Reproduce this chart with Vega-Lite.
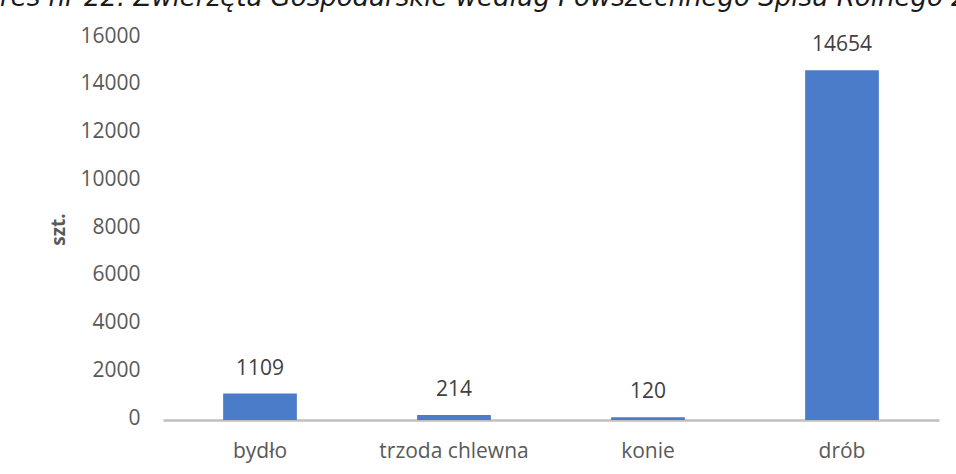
{
  "$schema": "https://vega.github.io/schema/vega-lite/v6.json",
  "autosize": {"type": "none"},
  "padding": {"left": 163, "top": 38, "right": 17, "bottom": 54},
  "width": 776,
  "height": 382,
  "background": "white",
  "title": {
    "text": "Wykres nr 22. Zwierzęta Gospodarskie według Powszechnego Spisu Rolnego 2010 r.",
    "font": "DejaVu Sans",
    "fontSize": 26,
    "fontStyle": "italic",
    "fontWeight": "normal",
    "color": "#1a1a1a",
    "anchor": "middle",
    "baseline": "alphabetic",
    "offset": -7,
    "dx": -58
  },
  "data": {
    "values": [
      {"kategoria": "bydło", "wartosc": 1109},
      {"kategoria": "trzoda chlewna", "wartosc": 214},
      {"kategoria": "konie", "wartosc": 120},
      {"kategoria": "drób", "wartosc": 14654}
    ]
  },
  "config": {
    "view": {"stroke": null},
    "font": "Open Sans"
  },
  "encoding": {
    "x": {
      "field": "kategoria",
      "type": "nominal",
      "sort": null,
      "scale": {"paddingInner": 0.62, "paddingOuter": 0.31},
      "axis": {
        "title": null,
        "labelAngle": 0,
        "labelFont": "Open Sans",
        "labelFontSize": 21,
        "labelColor": "#595959",
        "labelPadding": 20,
        "ticks": false,
        "domainColor": "#BFBFBF",
        "domainWidth": 2.5
      }
    },
    "y": {
      "field": "wartosc",
      "type": "quantitative",
      "scale": {"domain": [0, 16000], "nice": false},
      "axis": {
        "title": "szt.",
        "titleFont": "Open Sans",
        "titleFontSize": 19,
        "titleFontWeight": "bold",
        "titleColor": "#595959",
        "titlePadding": 11,
        "values": [0, 2000, 4000, 6000, 8000, 10000, 12000, 14000, 16000],
        "format": "d",
        "labelFont": "Open Sans",
        "labelFontSize": 21,
        "labelColor": "#595959",
        "labelPadding": 23,
        "labelOffset": -2,
        "ticks": false,
        "domain": false,
        "grid": false
      }
    }
  },
  "layer": [
    {
      "mark": {"type": "bar", "color": "#4A7CC9"}
    },
    {
      "mark": {
        "type": "text",
        "baseline": "alphabetic",
        "dy": -19,
        "font": "Open Sans",
        "fontSize": 21,
        "color": "#404040"
      },
      "encoding": {
        "text": {"field": "wartosc", "type": "quantitative"}
      }
    }
  ]
}
